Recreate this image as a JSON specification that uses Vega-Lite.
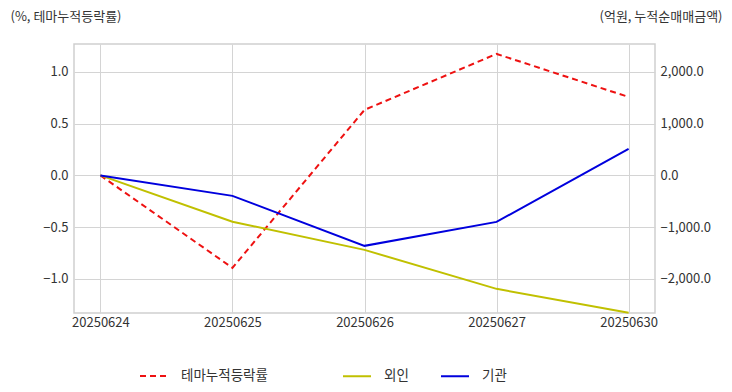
{
  "$schema": "https://vega.github.io/schema/vega-lite/v6.json",
  "width": 581,
  "height": 269,
  "autosize": {"type": "none"},
  "padding": {"left": 74, "top": 44, "right": 77, "bottom": 79},
  "config": {
    "font": "Noto Sans CJK KR",
    "view": {"stroke": "#cfcfcf", "strokeWidth": 1.5},
    "axis": {"labelFont": "Noto Sans CJK KR", "labelFontSize": 13, "labelColor": "#333333", "titleFont": "Noto Sans CJK KR", "titleFontSize": 13, "titleFontWeight": "normal", "titleColor": "#333333", "gridColor": "#d4d4d4", "gridWidth": 1, "domain": false, "ticks": false, "tickSize": 0},
    "legend": {"labelFont": "Noto Sans CJK KR", "labelFontSize": 13.5, "labelColor": "#333333"}
  },
  "datasets": {
    "theme": [
      {"date": "20250624", "series": "테마누적등락률", "pct": 0.0},
      {"date": "20250625", "series": "테마누적등락률", "pct": -0.894},
      {"date": "20250626", "series": "테마누적등락률", "pct": 0.633},
      {"date": "20250627", "series": "테마누적등락률", "pct": 1.174},
      {"date": "20250630", "series": "테마누적등락률", "pct": 0.758}
    ],
    "flow": [
      {"date": "20250624", "series": "외인", "amt": 0},
      {"date": "20250625", "series": "외인", "amt": -895},
      {"date": "20250626", "series": "외인", "amt": -1440},
      {"date": "20250627", "series": "외인", "amt": -2193},
      {"date": "20250630", "series": "외인", "amt": -2657},
      {"date": "20250624", "series": "기관", "amt": 0},
      {"date": "20250625", "series": "기관", "amt": -396},
      {"date": "20250626", "series": "기관", "amt": -1362},
      {"date": "20250627", "series": "기관", "amt": -899},
      {"date": "20250630", "series": "기관", "amt": 512}
    ]
  },
  "encoding": {
    "x": {"field": "date", "type": "ordinal", "scale": {"type": "point", "padding": 0.2}, "axis": {"title": null, "labelAngle": 0, "labelAlign": "center", "labelFlush": false, "labelBound": false, "labelOverlap": false, "grid": true, "labelPadding": 3}}
  },
  "layer": [
    {
      "data": {"name": "theme"},
      "mark": {"type": "line", "strokeDash": [6, 4], "strokeWidth": 2},
      "encoding": {
        "y": {"field": "pct", "type": "quantitative", "scale": {"domain": [-1.33, 1.27], "nice": false, "zero": false}, "axis": {"values": [-1, -0.5, 0, 0.5, 1], "format": ".1f", "grid": true, "labelPadding": 6, "title": "(%, 테마누적등락률)", "titleAngle": 0, "titleAlign": "left", "titleBaseline": "middle", "titleX": -64, "titleY": -28}},
        "color": {"field": "series", "type": "nominal", "scale": {"domain": ["테마누적등락률"], "range": ["#ee1111"]}, "legend": {"title": null, "orient": "none", "legendX": 65, "legendY": 317, "symbolType": "stroke", "symbolSize": 784, "symbolStrokeWidth": 2, "symbolDash": [6, 4], "labelOffset": 12}}
      }
    },
    {
      "data": {"name": "flow"},
      "mark": {"type": "line", "strokeWidth": 2},
      "encoding": {
        "y": {"field": "amt", "type": "quantitative", "scale": {"domain": [-2660, 2540], "nice": false, "zero": false}, "axis": {"orient": "right", "values": [-2000, -1000, 0, 1000, 2000], "format": ",.1f", "grid": false, "labelPadding": 5, "title": "(억원, 누적순매매금액)", "titleAngle": 0, "titleAlign": "right", "titleBaseline": "middle", "titleX": 67, "titleY": -28}},
        "color": {"field": "series", "type": "nominal", "sort": ["외인", "기관"], "scale": {"domain": ["외인", "기관"], "range": ["#c0c000", "#0000dd"]}, "legend": {"title": null, "orient": "none", "direction": "horizontal", "legendX": 268, "legendY": 317, "symbolType": "stroke", "symbolSize": 784, "symbolStrokeWidth": 2, "labelOffset": 12, "columnPadding": 28}}
      }
    }
  ],
  "resolve": {"scale": {"y": "independent", "color": "independent"}, "legend": {"color": "independent"}}
}
